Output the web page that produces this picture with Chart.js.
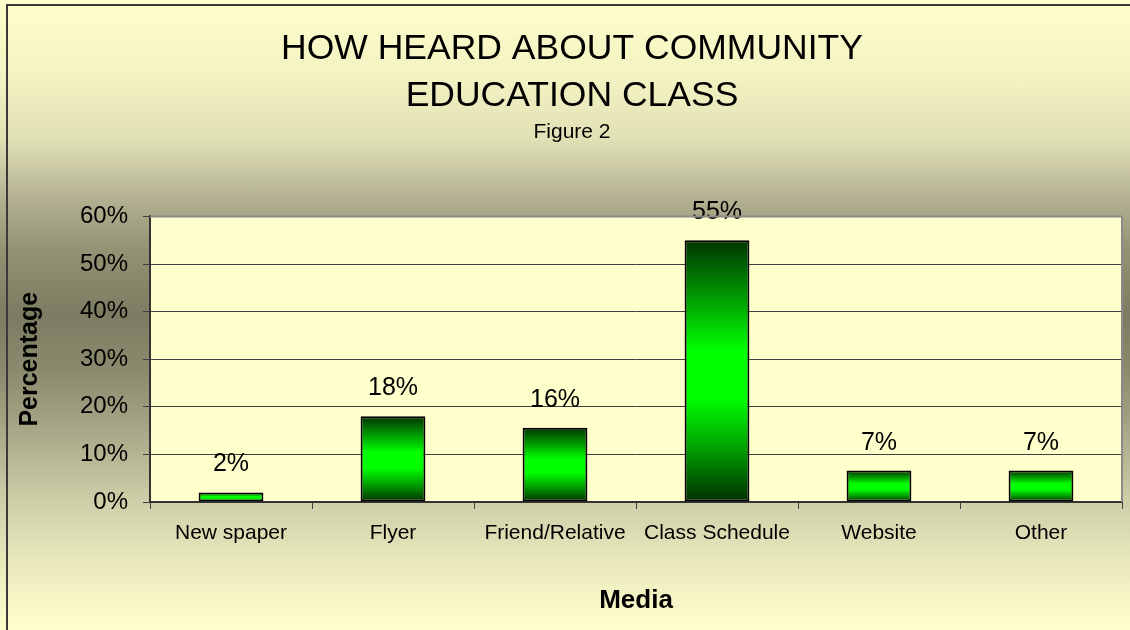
<!DOCTYPE html>
<html>
<head>
<meta charset="utf-8">
<title>How heard about community education class</title>
<script src="https://cdn.jsdelivr.net/npm/chart.js"></script>
<style>
    html, body { margin: 0; padding: 0; }
    #wrap {
        position: relative;
        width: 1130px;
        height: 630px;
        overflow: hidden;
        background: linear-gradient(to bottom,
            #ffffcc 0px, #f2f2c2 80px, #e0e0b5 140px, #b5b393 195px,
            #939274 250px, #7c7c62 315px, #8a8a6e 370px, #a5a485 425px,
            #cbcba6 495px, #e6e6bb 555px, #ffffcc 630px);
    }
    #frame {
        position: absolute;
        left: 6px;
        top: 4px;
        width: 1200px;
        height: 700px;
        border-left: 2px solid #3a3a3a;
        border-top: 2px solid #3a3a3a;
    }
    #chartBox { position: absolute; left: 0; top: 0; width: 1130px; height: 630px; }
</style>
</head>
<body>
<div id="wrap">
    <div id="frame"></div>
    <div id="chartBox"><canvas id="mediaChart"></canvas></div>
</div>
<script>
// Chart data
const mediaLabels = ["New spaper", "Flyer", "Friend/Relative", "Class Schedule", "Website", "Other"];
const percentValues = [2, 18, 15.6, 55, 6.6, 6.6];
const yMin = 0;
const yMax = 60;
const yStep = 10;

Chart.defaults.font.family = '"Liberation Sans", Arial, sans-serif';
Chart.defaults.color = "#000";

// Each bar gets its own dark-bright-dark vertical gradient
function barGradient(context) {
    const chart = context.chart;
    const area = chart.chartArea;
    if (!area || context.type !== "data") {
        return "#00ff00";
    }
    const y = chart.scales.y;
    const top = y.getPixelForValue(context.raw);
    const base = y.getPixelForValue(0);
    const g = chart.ctx.createLinearGradient(0, top, 0, base);
    g.addColorStop(0, "#003300");
    g.addColorStop(0.25, "#00aa00");
    g.addColorStop(0.42, "#00ff00");
    g.addColorStop(0.6, "#00ff00");
    g.addColorStop(0.78, "#00a800");
    g.addColorStop(1, "#002e00");
    return g;
}

// Pale plot area with grey top/right edges
const plotBox = {
    id: "plotBox",
    beforeDraw(chart) {
        const {ctx, chartArea: a} = chart;
        ctx.save();
        ctx.fillStyle = "#ffffcc";
        ctx.fillRect(a.left, a.top, a.right - a.left, a.bottom - a.top);
        ctx.restore();
    },
    afterDraw(chart) {
        const {ctx, chartArea: a} = chart;
        ctx.save();
        ctx.strokeStyle = "#8a8a8a";
        ctx.lineWidth = 2;
        ctx.beginPath();
        ctx.moveTo(a.left, a.top);
        ctx.lineTo(a.right, a.top);
        ctx.lineTo(a.right, a.bottom);
        ctx.stroke();
        ctx.restore();
    }
};

// Percent label above each bar
const barValueLabels = {
    id: "barValueLabels",
    afterDatasetsDraw(chart) {
        const ctx = chart.ctx;
        const meta = chart.getDatasetMeta(0);
        ctx.save();
        ctx.font = '25px "Liberation Sans", Arial, sans-serif';
        ctx.fillStyle = "#000";
        ctx.textAlign = "center";
        ctx.textBaseline = "alphabetic";
        meta.data.forEach(function (bar, i) {
            ctx.fillText(Math.round(percentValues[i]) + "%", bar.x, bar.y - 21);
        });
        ctx.restore();
    }
};

const mediaChart = document.getElementById("mediaChart");

new Chart(mediaChart, {
    type: "bar",
    data: {
        labels: mediaLabels,
        datasets: [{
            data: percentValues,
            backgroundColor: barGradient,
            borderColor: "#000",
            borderWidth: 2,
            borderSkipped: false,
            barPercentage: 0.4,
            categoryPercentage: 1.0
        }]
    },
    plugins: [plotBox, barValueLabels],
    options: {
        responsive: true,
        maintainAspectRatio: false,
        animation: false,
        events: [],
        layout: {
            padding: {top: 10, left: 22, right: 8, bottom: 0}
        },
        plugins: {
            legend: {display: false},
            tooltip: {enabled: false},
            title: {
                display: true,
                text: ["HOW HEARD ABOUT COMMUNITY", "EDUCATION CLASS"],
                font: {size: 35.5, weight: "normal", lineHeight: 1.32},
                color: "#000",
                padding: {top: 16, bottom: 0}
            },
            subtitle: {
                display: true,
                text: "Figure 2",
                font: {size: 21, lineHeight: 1.2},
                color: "#000",
                padding: {top: 0, bottom: 71.5}
            }
        },
        scales: {
            x: {
                grid: {
                    offset: true,
                    drawOnChartArea: false,
                    drawTicks: true,
                    tickLength: 7,
                    color: "#404040"
                },
                border: {color: "#333", width: 2},
                ticks: {
                    font: {size: 21},
                    color: "#000",
                    padding: 12,
                    maxRotation: 0,
                    autoSkip: false
                },
                title: {
                    display: true,
                    text: "Media",
                    font: {size: 26, weight: "bold"},
                    color: "#000",
                    padding: {top: 0, bottom: 14}
                },
                afterFit(scale) {
                    scale.height = 128;
                }
            },
            y: {
                min: yMin,
                max: yMax,
                grid: {
                    tickLength: 7,
                    color: "#404040",
                    lineWidth: 1
                },
                border: {color: "#333", width: 2},
                ticks: {
                    stepSize: yStep,
                    font: {size: 24},
                    color: "#000",
                    padding: 15,
                    callback: function (v) { return v + "%"; }
                },
                title: {
                    display: true,
                    text: "Percentage",
                    font: {size: 25, weight: "bold", lineHeight: 1.2},
                    color: "#000",
                    padding: {top: -7, bottom: 0}
                },
                afterFit(scale) {
                    scale.width = 128;
                }
            }
        }
    }
});
</script>
</body>
</html>
